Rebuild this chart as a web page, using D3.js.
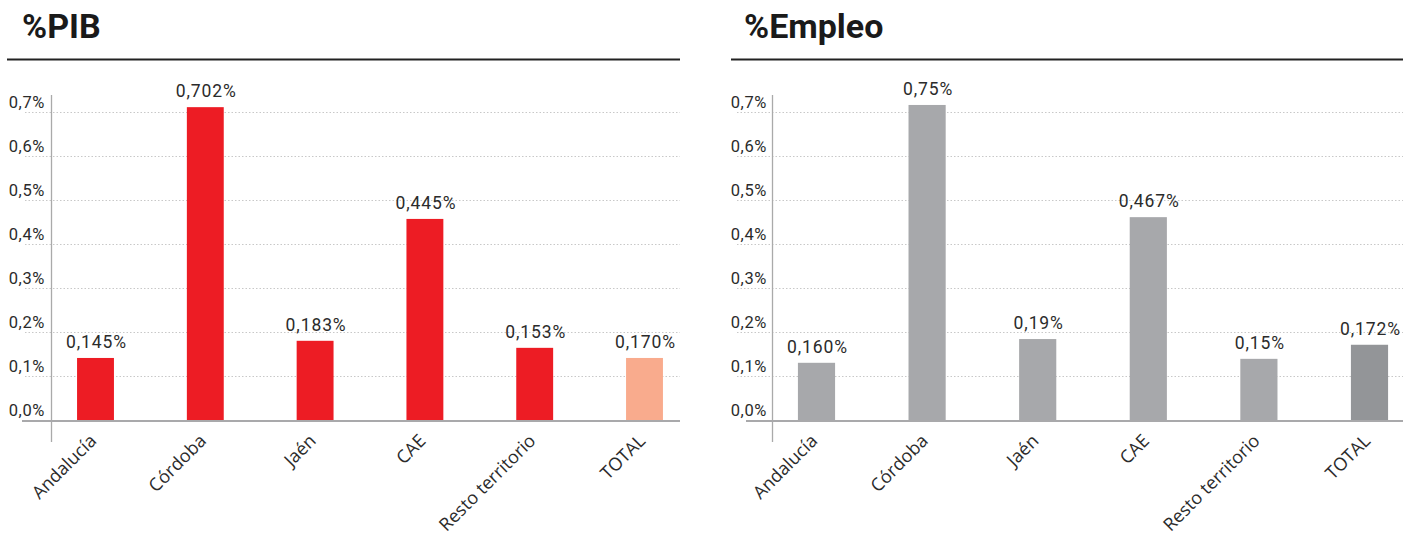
<!DOCTYPE html>
<html>
<head>
<meta charset="utf-8">
<script src="https://cdn.jsdelivr.net/npm/d3@7"></script>
<style>
  html, body { margin: 0; padding: 0; background: #fff; }
  svg { display: block; }
</style>
</head>
<body>
<svg id="chart" width="1417" height="539"></svg>
<script>
// ---- Data ----
const categories = ["Andalucía", "Córdoba", "Jaén", "CAE", "Resto territorio", "TOTAL"];
const pibValues = [0.141, 0.711, 0.180, 0.457, 0.164, 0.141];
const pibLabels = ["0,145%", "0,702%", "0,183%", "0,445%", "0,153%", "0,170%"];
const empleoValues = [0.130, 0.716, 0.184, 0.461, 0.139, 0.171];
const empleoLabels = ["0,160%", "0,75%", "0,19%", "0,467%", "0,15%", "0,172%"];
const yTicks = [0, 0.1, 0.2, 0.3, 0.4, 0.5, 0.6, 0.7];
const yTickLabels = ["0,0%", "0,1%", "0,2%", "0,3%", "0,4%", "0,5%", "0,6%", "0,7%"];
const titles = ["%PIB", "%Empleo"];

const svg = d3.select("#chart");

const panels = [
  { title: titles[0], values: pibValues, labels: pibLabels,
    colors: ["#ED1C24", "#ED1C24", "#ED1C24", "#ED1C24", "#ED1C24", "#F9AB8D"],
    titleX: 22, ruleX0: 7, ruleX1: 680, axisX: 51, tickRight: 45,
    gridX0: 25, baseX0: 22, plotX1: 680, bandX0: 40.6, bandX1: 699.4 },
  { title: titles[1], values: empleoValues, labels: empleoLabels,
    colors: ["#A7A8AB", "#A7A8AB", "#A7A8AB", "#A7A8AB", "#A7A8AB", "#939598"],
    titleX: 744, ruleX0: 731, ruleX1: 1403, axisX: 772, tickRight: 767,
    gridX0: 737, baseX0: 746, plotX1: 1403, bandX0: 761.2, bandX1: 1424.8 }
];

const y = d3.scaleLinear().domain([0, 0.7]).range([420, 112]);

panels.forEach(p => {
  const g = svg.append("g");

  // Title
  g.append("text")
    .attr("x", p.titleX).attr("y", 38)
    .attr("font-family", "Roboto, 'DejaVu Sans', sans-serif")
    .attr("font-weight", 700)
    .attr("font-size", 34)
    .attr("fill", "#1a1a1a")
    .text(p.title);

  // Rule under title
  g.append("line")
    .attr("x1", p.ruleX0).attr("x2", p.ruleX1)
    .attr("y1", 59.5).attr("y2", 59.5)
    .attr("stroke", "#222").attr("stroke-width", 1.8);

  // Gridlines (dotted)
  g.selectAll(".grid").data(yTicks.slice(1)).enter().append("line")
    .attr("x1", p.gridX0).attr("x2", p.plotX1)
    .attr("y1", d => Math.round(y(d)) + 0.5).attr("y2", d => Math.round(y(d)) + 0.5)
    .attr("stroke", "#c8c8c8").attr("stroke-width", 1)
    .attr("stroke-dasharray", "1.5,2");

  // Y axis via d3.axisLeft for tick labels
  const yAxis = d3.axisLeft(y)
    .tickValues(yTicks)
    .tickFormat((d, i) => yTickLabels[i])
    .tickSize(0).tickPadding(0);
  const ya = g.append("g")
    .attr("transform", `translate(${p.tickRight},0)`)
    .call(yAxis);
  ya.select(".domain").remove();
  ya.selectAll("text")
    .attr("font-family", "Roboto, sans-serif")
    .attr("font-size", 16.5)
    .attr("letter-spacing", 0.6)
    .attr("fill", "#2b2b2b")
    .attr("dy", "-4.5")
    .attr("text-anchor", "end");

  // Vertical axis line
  g.append("line")
    .attr("x1", p.axisX + 0.5).attr("x2", p.axisX + 0.5)
    .attr("y1", 95).attr("y2", 442)
    .attr("stroke", "#aaa").attr("stroke-width", 1.3);

  // Band scale
  const x = d3.scaleBand()
    .domain(categories)
    .range([p.bandX0, p.bandX1])
    .paddingInner(0.664)
    .paddingOuter(0.332);

  // Bars
  g.selectAll(".bar").data(p.values).enter().append("rect")
    .attr("x", (d, i) => x(categories[i]))
    .attr("width", x.bandwidth())
    .attr("y", d => y(d))
    .attr("height", d => y(0) - y(d))
    .attr("fill", (d, i) => p.colors[i]);

  // Baseline
  g.append("line")
    .attr("x1", p.baseX0).attr("x2", p.plotX1)
    .attr("y1", 421).attr("y2", 421)
    .attr("stroke", "#a9a9ab").attr("stroke-width", 2);

  // Value labels
  g.selectAll(".vlab").data(p.values).enter().append("text")
    .attr("x", (d, i) => x(categories[i]) + x.bandwidth() / 2 + 1)
    .attr("y", d => y(d) - 10)
    .attr("text-anchor", "middle")
    .attr("font-family", "Roboto, sans-serif")
    .attr("font-size", 17.5)
    .attr("letter-spacing", 0.9)
    .attr("fill", "#2b2b2b")
    .text((d, i) => p.labels[i]);

  // Category labels (rotated)
  g.selectAll(".clab").data(categories).enter().append("text")
    .attr("transform", d => `translate(${x(d) + x.bandwidth() / 2 + 2},${442}) rotate(-45)`)
    .attr("text-anchor", "end")
    .attr("font-family", "'Open Sans', sans-serif")
    .attr("font-size", 18)
    .attr("fill", "#2b2b2b")
    .text(d => d);
});
</script>
</body>
</html>
